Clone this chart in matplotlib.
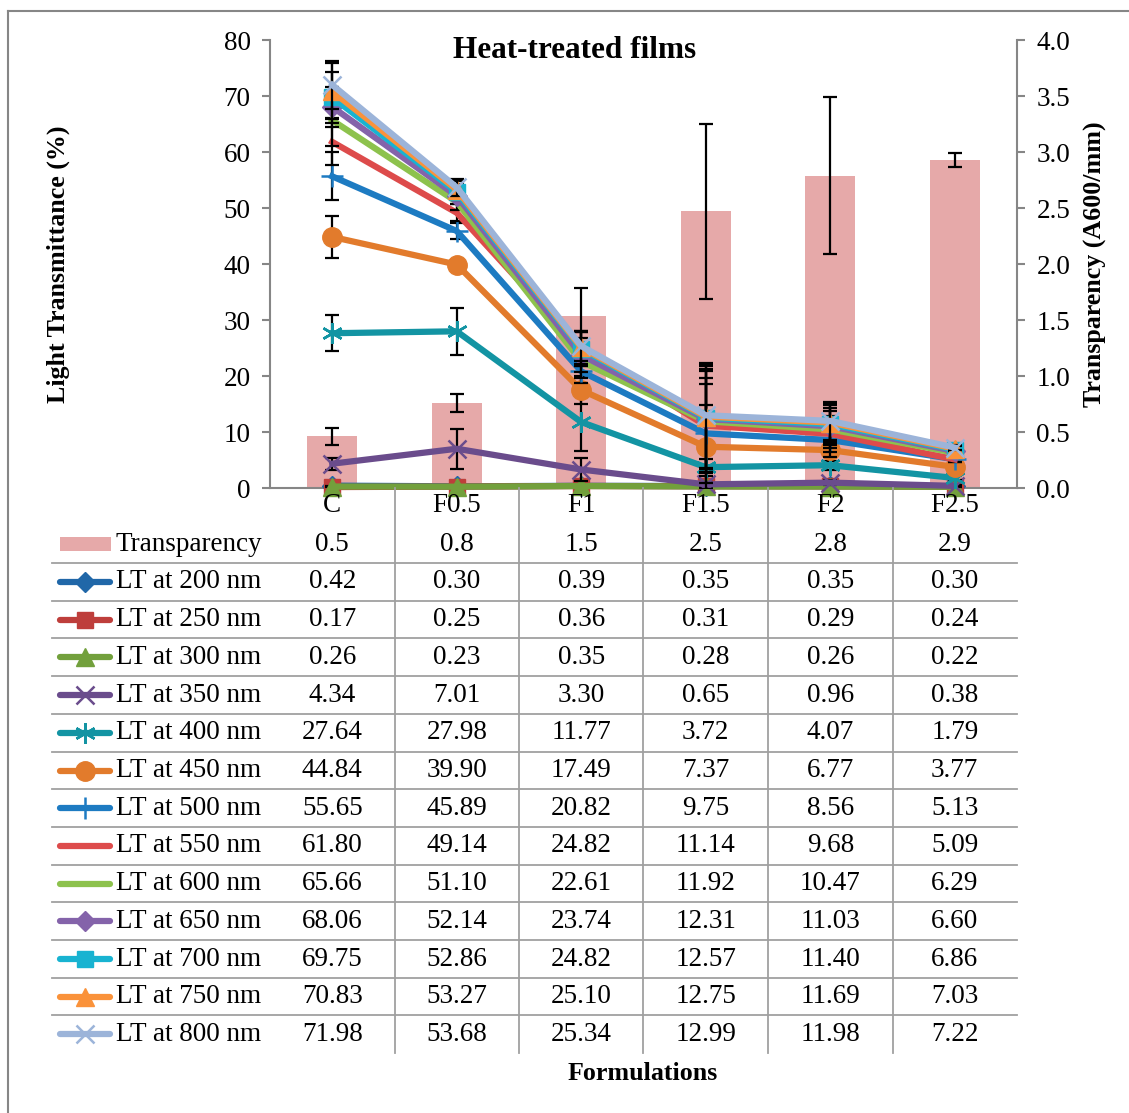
import numpy as np
import matplotlib
matplotlib.use("Agg")
import matplotlib.pyplot as plt
from matplotlib.lines import Line2D
from matplotlib.patches import Rectangle

plt.rcParams['font.family'] = ['Liberation Serif', 'DejaVu Serif']

# ---- data ----
categories = ["C", "F0.5", "F1", "F1.5", "F2", "F2.5"]
transparency = [0.46, 0.76, 1.54, 2.47, 2.79, 2.93]
transparency_err = [0.075, 0.08, 0.25, 0.78, 0.70, 0.065]

series_names = ["LT at 200 nm", "LT at 250 nm", "LT at 300 nm", "LT at 350 nm",
                "LT at 400 nm", "LT at 450 nm", "LT at 500 nm", "LT at 550 nm",
                "LT at 600 nm", "LT at 650 nm", "LT at 700 nm", "LT at 750 nm",
                "LT at 800 nm"]
lt_200 = [0.42, 0.30, 0.39, 0.35, 0.35, 0.30]
lt_250 = [0.17, 0.25, 0.36, 0.31, 0.29, 0.24]
lt_300 = [0.26, 0.23, 0.35, 0.28, 0.26, 0.22]
lt_350 = [4.34, 7.01, 3.30, 0.65, 0.96, 0.38]
lt_400 = [27.64, 27.98, 11.77, 3.72, 4.07, 1.79]
lt_450 = [44.84, 39.90, 17.49, 7.37, 6.77, 3.77]
lt_500 = [55.65, 45.89, 20.82, 9.75, 8.56, 5.13]
lt_550 = [61.80, 49.14, 24.82, 11.14, 9.68, 5.09]
lt_600 = [65.66, 51.10, 22.61, 11.92, 10.47, 6.29]
lt_650 = [68.06, 52.14, 23.74, 12.31, 11.03, 6.60]
lt_700 = [69.75, 52.86, 24.82, 12.57, 11.40, 6.86]
lt_750 = [70.83, 53.27, 25.10, 12.75, 11.69, 7.03]
lt_800 = [71.98, 53.68, 25.34, 12.99, 11.98, 7.22]

err_200 = [0.05, 0.05, 0.05, 0.05, 0.05, 0.05]
err_250 = [0.05, 0.05, 0.05, 0.05, 0.05, 0.05]
err_300 = [0.05, 0.05, 0.05, 0.05, 0.05, 0.05]
err_350 = [1.1, 3.6, 2.1, 0.5, 0.5, 0.2]
err_400 = [3.2, 4.2, 5.2, 1.5, 0.8, 0.3]
err_450 = [3.8, 0.9, 2.5, 7.5, 1.0, 0.5]
err_500 = [4.3, 1.5, 2.0, 8.9, 3.0, 0.5]
err_550 = [4.2, 1.5, 3.0, 8.5, 3.2, 0.5]
err_600 = [4.5, 1.5, 3.0, 9.0, 3.3, 0.5]
err_650 = [3.6, 1.5, 3.0, 9.0, 3.3, 0.5]
err_700 = [4.6, 1.5, 3.0, 9.2, 3.4, 0.5]
err_750 = [5.0, 1.5, 3.0, 9.3, 3.4, 0.5]
err_800 = [4.3, 1.5, 2.7, 9.4, 3.4, 0.5]

values = [lt_200, lt_250, lt_300, lt_350, lt_400, lt_450, lt_500,
          lt_550, lt_600, lt_650, lt_700, lt_750, lt_800]
errors = [err_200, err_250, err_300, err_350, err_400, err_450, err_500,
          err_550, err_600, err_650, err_700, err_750, err_800]
colors = ['#2067A8', '#BE3E3B', '#72A03C', '#6A4C8C', '#1394A3', '#E27B2C',
          '#1D7BC2', '#DD4B4B', '#8DC24D', '#8463AA', '#18B3D1', '#FA923A',
          '#9CB4D9']
markers = ['D', 's', '^', 'x', (6, 2, 0), 'o', '+', None, None, 'D', 's', '^', 'x']
msizes = [10, 11, 13, 13, 15, 14, 16, 0, 0, 10, 11, 13, 13]
bar_color = '#E6A9A9'

FS = 19.5

W, H = 1129, 1113
fig = plt.figure(figsize=(W / 100, H / 100), dpi=100)

def fx(px):
    return px / W

def fy(py):
    return 1 - py / H

left, right, top, bottom = 270, 1017, 40, 488
ax = fig.add_axes([fx(left), fy(bottom), fx(right - left), (bottom - top) / H])
ax2 = ax.twinx()
ax.set_zorder(ax2.get_zorder() + 1)
ax.patch.set_visible(False)

x = np.arange(len(categories))
ax2.bar(x, transparency, width=0.4, color=bar_color, zorder=1)
ax2.errorbar(x, transparency, yerr=transparency_err, fmt='none', ecolor='black',
             elinewidth=1.6, capsize=5, capthick=1.6, zorder=2)

for i in range(len(values)):
    ax.errorbar(x, values[i], yerr=errors[i], fmt='none', ecolor='black',
                elinewidth=1.6, capsize=5, capthick=1.6, zorder=2 + i * 2)
    mk = markers[i]
    mew = 1.8 if mk in ('x', '+', (6, 2, 0)) else 1
    ax.plot(x, values[i], color=colors[i], lw=4.5, marker=mk, ms=msizes[i],
            mew=mew, mec=colors[i], mfc=colors[i], zorder=3 + i * 2,
            clip_on=False)

axis_grey = '#868686'
ax.set_xlim(-0.5, 5.5)
ax.set_ylim(0, 80)
ax2.set_ylim(0, 4.0)
ax.set_yticks(np.arange(0, 81, 10))
ax2.set_yticks(np.arange(0, 4.01, 0.5))
ax2.set_yticklabels(["%.1f" % v for v in np.arange(0, 4.01, 0.5)])
ax.set_xticks([])
ax2.set_xticks([])
for a in (ax, ax2):
    for s in a.spines.values():
        s.set_visible(False)
ax.spines['left'].set_visible(True)
ax.spines['bottom'].set_visible(True)
ax2.spines['right'].set_visible(True)
for s in (ax.spines['left'], ax.spines['bottom'], ax2.spines['right']):
    s.set_color(axis_grey)
    s.set_linewidth(1.5)
ax.tick_params(axis='y', direction='out', length=6, width=1.5, color=axis_grey,
               labelsize=FS, pad=8)
ax2.tick_params(axis='y', direction='out', length=6, width=1.5, color=axis_grey,
                labelsize=FS, pad=8)

fig.text(fx(575), fy(50), "Heat-treated films", ha='center', va='center',
         fontsize=22.5, fontweight='bold')
fig.text(fx(58), fy(264), "Light Transmittance (%)", rotation=90, ha='center',
         va='center', fontsize=18.7, fontweight='bold')
fig.text(fx(1095), fy(264), "Transparency (A600/mm)", rotation=90, ha='center',
         va='center', fontsize=18.7, fontweight='bold')

# ---- data table ----
cat_w = (right - left) / len(categories)
centers = [left + cat_w * (k + 0.5) for k in range(len(categories))]
line_grey = '#A0A0A0'
for k in range(1, len(categories)):
    xp = left + cat_w * k
    fig.add_artist(Line2D([fx(xp), fx(xp)], [fy(bottom), fy(1053)],
                          color=line_grey, lw=1.3))
row_h = 37.7
for r in range(13):
    yp = 563 + row_h * r
    fig.add_artist(Line2D([fx(52), fx(right)], [fy(yp), fy(yp)],
                          color=line_grey, lw=1.3))

for k, c in enumerate(categories):
    fig.text(fx(centers[k]), fy(506), c, ha='center', va='center', fontsize=FS)

# transparency row
ytr = 544
fig.add_artist(Rectangle((fx(60), fy(ytr + 7)), fx(51), 14 / H,
                         color=bar_color, lw=0))
fig.text(fx(116), fy(ytr), "Transparency", ha='left', va='center', fontsize=FS)
for k, v in enumerate(transparency):
    fig.text(fx(centers[k]), fy(ytr), "%.1f" % v, ha='center', va='center',
             fontsize=FS)

for i, name in enumerate(series_names):
    yr = 582 + row_h * i
    fig.add_artist(Line2D([fx(60), fx(110)], [fy(yr), fy(yr)], color=colors[i],
                          lw=4.5, solid_capstyle='round'))
    if markers[i] is not None:
        mk = markers[i]
        mew = 1.8 if mk in ('x', '+', (6, 2, 0)) else 1
        fig.add_artist(Line2D([fx(85)], [fy(yr)], color=colors[i], lw=0,
                              marker=mk, ms=msizes[i], mew=mew,
                              mec=colors[i], mfc=colors[i]))
    fig.text(fx(116), fy(yr), name, ha='left', va='center', fontsize=FS)
    for k, v in enumerate(values[i]):
        fig.text(fx(centers[k]), fy(yr), "%.2f" % v, ha='center', va='center',
                 fontsize=FS)

fig.text(fx(643), fy(1074), "Formulations", ha='center', va='center',
         fontsize=18.7, fontweight='bold')

# outer frame
fig.add_artist(Line2D([fx(8), fx(8)], [fy(11), 0], color=axis_grey, lw=1.5))
fig.add_artist(Line2D([fx(8), 1], [fy(11), fy(11)], color=axis_grey, lw=1.5))

fig.savefig("out.png", dpi=100)
